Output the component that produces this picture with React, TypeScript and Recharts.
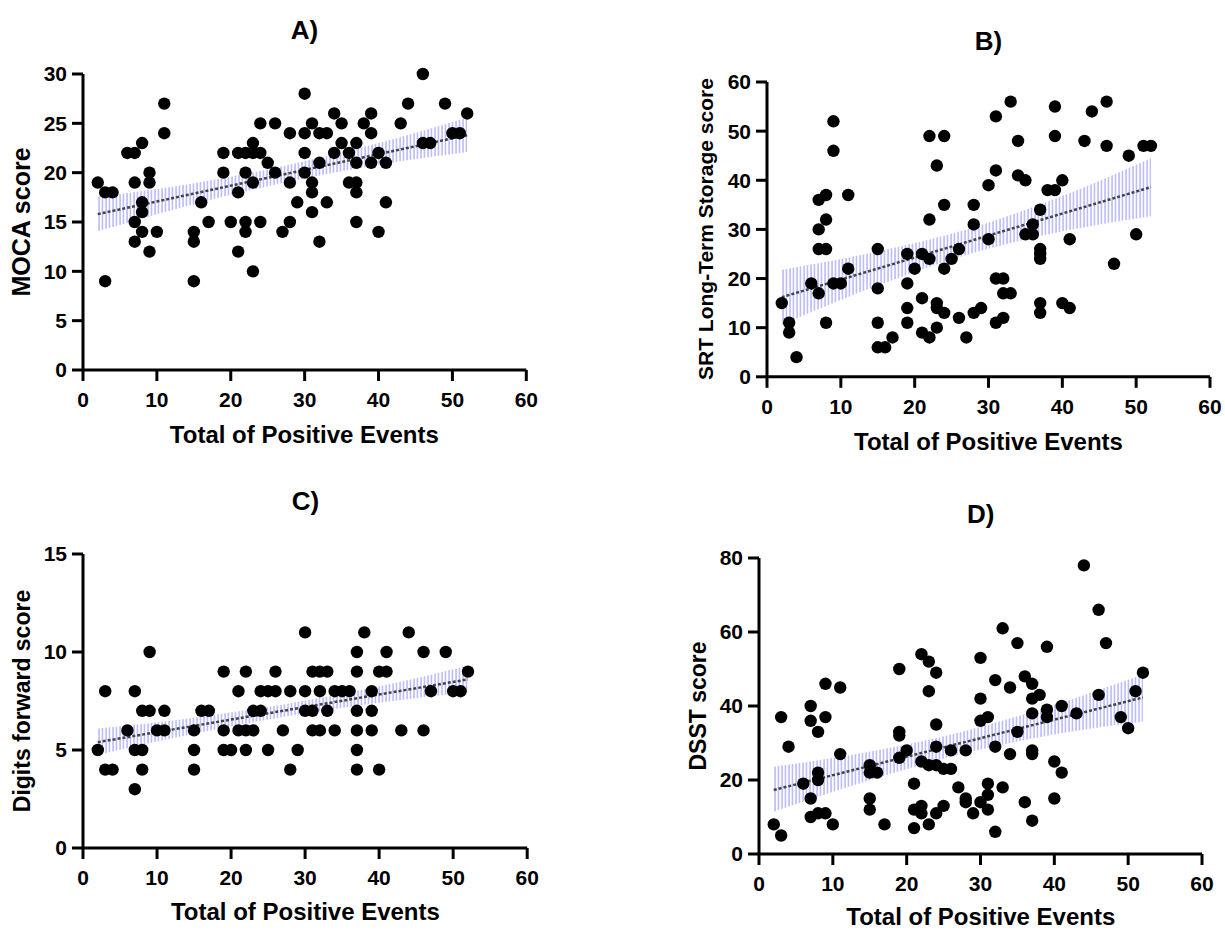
import { ComposedChart, Scatter, Line, Area, XAxis, YAxis } from "recharts"

type Pt = [number, number]

const FONT = "'Liberation Sans', Arial, Helvetica, sans-serif"

const xTicks = [0, 10, 20, 30, 40, 50, 60]
const xLabel = "Total of Positive Events"

// fitted line drawn between these x values, band read at bandX
const fitX = [2, 52]
const bandX = [2, 14, 27, 40, 52]

// A) MOCA score
const mocaTicks = [0, 5, 10, 15, 20, 25, 30]
const mocaPoints: Pt[] = [
  [2, 19], [3, 18], [4, 18], [3, 9], [6, 22], [7, 22], [8, 23], [7, 19], [8, 17], [8, 16],
  [7, 15], [8, 14], [7, 13], [9, 20], [9, 19], [9, 12], [10, 14], [11, 27], [11, 24], [15, 14],
  [15, 13], [15, 9], [16, 17], [17, 15], [19, 22], [19, 20], [20, 15], [21, 22], [21, 18], [21, 12],
  [22, 22], [22, 20], [22, 15], [22, 14], [23, 23], [23, 22], [23, 19], [23, 10], [24, 25], [24, 22],
  [24, 15], [25, 21], [26, 25], [26, 20], [27, 14], [28, 24], [28, 19], [28, 15], [29, 17], [30, 28],
  [34, 26], [39, 26], [44, 27], [46, 30], [49, 27], [52, 26], [31, 25], [35, 25], [38, 25], [43, 25],
  [30, 24], [32, 24], [33, 24], [39, 24], [35, 23], [37, 23], [46, 23], [47, 23], [50, 24], [51, 24],
  [30, 22], [34, 22], [36, 22], [40, 22], [32, 21], [37, 21], [39, 21], [41, 21], [30, 20], [31, 19],
  [36, 19], [37, 19], [31, 18], [37, 18], [33, 17], [41, 17], [31, 16], [37, 15], [40, 14], [32, 13],
]
const mocaFit = [15.8, 23.8]
const mocaLo = [14.05, 16.6, 18.95, 20.8, 22.1]
const mocaHi = [17.55, 18.8, 20.65, 23.0, 25.6]

// B) SRT Long-Term Storage score
const srtTicks = [0, 10, 20, 30, 40, 50, 60]
const srtPoints: Pt[] = [
  [2, 15], [3, 11], [3, 9], [4, 4], [6, 19], [7, 36], [7, 30], [7, 26], [7, 17], [8, 37],
  [8, 32], [8, 26], [8, 11], [9, 52], [9, 46], [9, 19], [10, 19], [11, 37], [11, 22], [15, 26],
  [15, 18], [15, 11], [15, 6], [16, 6], [17, 8], [19, 25], [19, 19], [19, 14], [19, 11], [20, 22],
  [21, 25], [21, 16], [21, 9], [22, 49], [22, 32], [22, 24], [22, 8], [23, 43], [23, 15], [23, 14],
  [23, 10], [24, 49], [24, 35], [24, 22], [24, 13], [25, 24], [26, 26], [26, 12], [27, 8], [28, 35],
  [28, 31], [28, 13], [29, 14], [30, 39], [30, 28], [31, 53], [31, 42], [31, 20], [31, 11], [32, 20],
  [32, 17], [32, 12], [33, 56], [33, 17], [34, 48], [34, 41], [35, 40], [35, 29], [36, 31], [36, 29],
  [37, 34], [37, 26], [37, 25], [37, 24], [37, 15], [37, 13], [38, 38], [39, 55], [39, 49], [39, 38],
  [40, 40], [40, 15], [41, 28], [41, 14], [43, 48], [44, 54], [46, 56], [46, 47], [47, 23], [49, 45],
  [50, 29], [51, 47], [52, 47],
]
const srtFit = [16.2, 38.6]
const srtLo = [10.6, 18.0, 24.8, 29.6, 32.7]
const srtHi = [21.8, 25.2, 30.0, 36.8, 44.5]

// C) Digits forward score
const digitTicks = [0, 5, 10, 15]
const digitPoints: Pt[] = [
  [2, 5], [3, 8], [3, 4], [4, 4], [6, 6], [7, 8], [7, 5], [7, 3], [8, 7], [8, 5],
  [8, 4], [9, 10], [9, 7], [10, 6], [11, 7], [11, 6], [15, 6], [15, 5], [15, 4], [16, 7],
  [17, 7], [19, 9], [19, 6], [19, 5], [20, 5], [21, 8], [21, 6], [22, 9], [22, 6], [22, 5],
  [23, 7], [23, 6], [24, 8], [24, 7], [25, 8], [25, 5], [26, 9], [26, 8], [27, 6], [28, 8],
  [28, 4], [29, 5], [30, 11], [30, 8], [30, 7], [31, 9], [31, 7], [31, 6], [32, 9], [32, 8],
  [32, 6], [33, 9], [33, 7], [34, 8], [34, 6], [35, 8], [36, 8], [37, 10], [37, 9], [37, 7],
  [37, 6], [37, 5], [37, 4], [38, 11], [39, 8], [39, 7], [39, 6], [40, 9], [40, 4], [41, 10],
  [41, 9], [43, 6], [44, 11], [46, 10], [46, 6], [47, 8], [49, 10], [50, 8], [51, 8], [52, 9],
]
const digitFit = [5.4, 8.6]
const digitLo = [4.75, 5.75, 6.68, 7.41, 7.95]
const digitHi = [6.1, 6.6, 7.32, 8.25, 9.3]

// D) DSST score
const dsstTicks = [0, 20, 40, 60, 80]
const dsstPoints: Pt[] = [
  [2, 8], [3, 5], [3, 37], [4, 29], [6, 19], [7, 40], [7, 36], [7, 15], [7, 10], [8, 33],
  [8, 22], [8, 20], [8, 11], [9, 46], [9, 37], [9, 11], [10, 8], [11, 45], [11, 27], [15, 24],
  [15, 22], [15, 15], [15, 12], [16, 22], [17, 8], [19, 50], [19, 33], [19, 32], [19, 26], [20, 28],
  [21, 19], [21, 12], [21, 7], [22, 54], [22, 25], [22, 13], [22, 11], [23, 52], [23, 44], [23, 24],
  [23, 8], [24, 49], [24, 35], [24, 29], [24, 24], [24, 11], [25, 23], [25, 13], [26, 28], [26, 23],
  [27, 18], [28, 28], [28, 15], [28, 14], [29, 11], [30, 53], [30, 42], [30, 36], [30, 14], [31, 37],
  [31, 19], [31, 16], [31, 12], [32, 47], [32, 29], [32, 6], [33, 61], [33, 18], [34, 45], [34, 27],
  [35, 57], [35, 33], [36, 48], [36, 14], [37, 46], [37, 42], [37, 38], [37, 28], [37, 27], [37, 9],
  [38, 43], [39, 56], [39, 39], [39, 37], [40, 25], [40, 15], [41, 40], [41, 22], [43, 38], [44, 78],
  [46, 66], [46, 43], [47, 57], [49, 37], [50, 34], [51, 44], [52, 49],
]
const dsstFit = [17.3, 42.3]
const dsstLo = [11.4, 19.3, 26.8, 32.3, 35.8]
const dsstHi = [23.6, 27.3, 32.8, 40.3, 48.5]

type PanelDef = {
  title: string
  titleY: number
  yLabel: string
  yLabelSize: number
  xLabelY: number
  rect: [number, number, number, number] // plot left, top, right, bottom (page px)
  yTicks: number[]
  points: Pt[]
  fit: number[]
  lo: number[]
  hi: number[]
}

const panels: PanelDef[] = [
  { title: "A)", titleY: 38.6, yLabel: "MOCA score", yLabelSize: 25, xLabelY: 443, rect: [82.7, 74, 526, 370], yTicks: mocaTicks, points: mocaPoints, fit: mocaFit, lo: mocaLo, hi: mocaHi },
  { title: "B)", titleY: 50, yLabel: "SRT Long-Term Storage score", yLabelSize: 21, xLabelY: 450, rect: [767, 81.7, 1210, 376.5], yTicks: srtTicks, points: srtPoints, fit: srtFit, lo: srtLo, hi: srtHi },
  { title: "C)", titleY: 510, yLabel: "Digits forward score", yLabelSize: 23, xLabelY: 920, rect: [83.3, 554, 527.5, 848], yTicks: digitTicks, points: digitPoints, fit: digitFit, lo: digitLo, hi: digitHi },
  { title: "D)", titleY: 523, yLabel: "DSST score", yLabelSize: 23, xLabelY: 925, rect: [759.3, 558, 1202.3, 854], yTicks: dsstTicks, points: dsstPoints, fit: dsstFit, lo: dsstLo, hi: dsstHi },
]

const tickStyle = { fill: "#000", fontSize: 21, fontWeight: 700, fontFamily: FONT }
const axisStroke = { stroke: "#000", strokeWidth: 3 }

function Dot(props: any) {
  if (props.cx == null || props.cy == null) return null
  return <circle cx={props.cx} cy={props.cy} r={6.2} fill="#000" />
}

function Panel({ p }: { p: PanelDef }) {
  const [pl, pt, pr, pb] = p.rect
  const yAxisW = 83
  const left = pl - yAxisW
  const top = pt - 30
  const W = Math.min(pr - left + 15, 1225 - left)
  const xAxisH = 45
  const H = pb - top + xAxisH

  const pts = p.points.map(([x, y]) => ({ x, y }))
  const fitRows = fitX.map((x, i) => ({ x, y: p.fit[i] }))
  const bandRows = bandX.map((x, i) => ({ x, range: [p.lo[i], p.hi[i]] }))

  return (
    <div style={{ position: "absolute", left, top, width: W, height: H }}>
      <ComposedChart width={W} height={H} margin={{ top: 30, right: W - (pr - left), bottom: 0, left: 0 }}>
        <XAxis
          type="number"
          dataKey="x"
          domain={[0, 60]}
          ticks={xTicks}
          interval={0}
          height={xAxisH}
          tickSize={11}
          tickMargin={11}
          axisLine={axisStroke}
          tickLine={axisStroke}
          tick={tickStyle}
        />
        <YAxis
          type="number"
          domain={[0, p.yTicks[p.yTicks.length - 1]]}
          ticks={p.yTicks}
          interval={0}
          width={yAxisW}
          tickSize={11}
          tickMargin={5}
          axisLine={axisStroke}
          tickLine={axisStroke}
          tick={tickStyle}
        />
        <Area
          data={bandRows}
          dataKey="range"
          type="monotone"
          stroke="none"
          fill="url(#ciHatch)"
          fillOpacity={1}
          isAnimationActive={false}
          dot={false}
          activeDot={false}
        />
        <Line
          data={fitRows}
          dataKey="y"
          type="linear"
          stroke="#444"
          strokeWidth={2.5}
          strokeDasharray="3 2"
          dot={false}
          activeDot={false}
          isAnimationActive={false}
        />
        <Scatter data={pts} dataKey="y" shape={Dot} isAnimationActive={false} />
      </ComposedChart>
    </div>
  )
}

export default function App() {
  return (
    <div style={{ position: "absolute", left: 0, top: 0, width: 1225, height: 930, overflow: "hidden", background: "#fff" }}>
      <svg width={0} height={0} style={{ position: "absolute" }}>
        <defs>
          <pattern id="ciHatch" width={3.5} height={10} patternUnits="userSpaceOnUse">
            <line x1={1} y1={0} x2={1} y2={10} stroke="#9c9cf7" strokeWidth={1.1} />
          </pattern>
        </defs>
      </svg>
      {panels.map((p) => (
        <Panel key={p.title} p={p} />
      ))}
      <svg width={1225} height={930} style={{ position: "absolute", left: 0, top: 0, pointerEvents: "none" }}>
        {panels.map((p) => {
          const [pl, pt, pr, pb] = p.rect
          const cx = (pl + pr) / 2
          const cy = (pt + pb) / 2
          const lx = pl - 62 + p.yLabelSize * 0.36
          return (
            <g key={p.title} fontFamily={FONT} fontWeight={700} fill="#000">
              <text x={cx} y={p.titleY} fontSize={26} textAnchor="middle">{p.title}</text>
              <text x={cx} y={p.xLabelY} fontSize={24} textAnchor="middle">{xLabel}</text>
              <text
                x={lx}
                y={cy}
                fontSize={p.yLabelSize}
                textAnchor="middle"
                transform={`rotate(-90 ${lx} ${cy})`}
              >
                {p.yLabel}
              </text>
            </g>
          )
        })}
      </svg>
    </div>
  )
}
